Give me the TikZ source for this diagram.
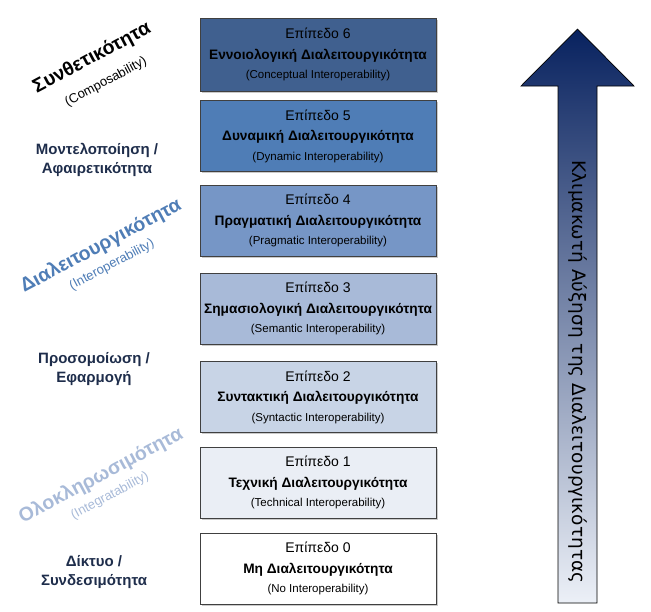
\documentclass[tikz,border=0pt]{standalone}
\usepackage{fontspec}
\setmainfont{Liberation Sans}
\newfontfamily\arrowfont{DejaVu Sans}
\usetikzlibrary{shadows}
\definecolor{cSix}{RGB}{64,96,143}
\definecolor{cFive}{RGB}{79,125,182}
\definecolor{cFour}{RGB}{118,150,198}
\definecolor{cThree}{RGB}{168,186,216}
\definecolor{cTwo}{RGB}{200,212,230}
\definecolor{cOne}{RGB}{234,238,245}
\definecolor{navytext}{RGB}{30,45,75}
\definecolor{arrowtop}{RGB}{8,34,95}
\definecolor{arrowbot}{RGB}{236,240,247}
\tikzset{
  levelbox/.style={draw=black!75, line width=0.8pt, minimum width=236pt, minimum height=71pt,
    inner sep=0pt, align=center, text=black,
    drop shadow={shadow xshift=1.5pt, shadow yshift=-1.5pt, opacity=0.35, fill=black!60}},
  sidelabel/.style={font=\fontsize{15}{19}\selectfont\bfseries, text=navytext, align=center},
  bigrot/.style={font=\fontsize{19.5}{22}\selectfont\bfseries, rotate=28},
  smallrot/.style={font=\fontsize{13}{15}\selectfont, rotate=28},
}
\newcommand{\lvl}[3]{{\fontsize{14}{20}\selectfont #1}\\[8.5pt]{\fontsize{13.7}{20}\selectfont\bfseries #2}\\[7.5pt]{\fontsize{11.5}{14}\selectfont #3}}
\begin{document}
\begin{tikzpicture}[x=1pt,y=-1pt]
\useasboundingbox (0,0) rectangle (651,611);
% level boxes
\node[levelbox, fill=cSix, minimum height=73pt] (l6) at (318,54.5) {\lvl{Επίπεδο 6}{Εννοιολογική Διαλειτουργικότητα}{(Conceptual Interoperability)}};
\node[levelbox, fill=cFive] (l5) at (318,136) {\lvl{Επίπεδο 5}{Δυναμική Διαλειτουργικότητα}{(Dynamic Interoperability)}};
\node[levelbox, fill=cFour] (l4) at (318,220.5) {\lvl{Επίπεδο 4}{Πραγματική Διαλειτουργικότητα}{(Pragmatic Interoperability)}};
\node[levelbox, fill=cThree] (l3) at (318,308.5) {\lvl{Επίπεδο 3}{Σημασιολογική Διαλειτουργικότητα}{(Semantic Interoperability)}};
\node[levelbox, fill=cTwo] (l2) at (318,397) {\lvl{Επίπεδο 2}{Συντακτική Διαλειτουργικότητα}{(Syntactic Interoperability)}};
\node[levelbox, fill=cOne] (l1) at (318,482.5) {\lvl{Επίπεδο 1}{Τεχνική Διαλειτουργικότητα}{(Technical Interoperability)}};
\node[levelbox, fill=white] (l0) at (318,568.5) {\lvl{Επίπεδο 0}{Μη Διαλειτουργικότητα}{(No Interoperability)}};
% arrow
\shade[top color=arrowtop, bottom color=arrowbot, draw=black, line width=0.7pt]
  (558,603) -- (558,86) -- (521,86) -- (577.5,29) -- (634,86) -- (597,86) -- (597,603) -- cycle;
\node[rotate=-90, font=\arrowfont\fontsize{18.5}{20}\selectfont, text=black] (arrowtext) at (577.5,372) {Κλιμακωτή Αύξηση της Διαλειτουργικότητας};
% left labels
\node[bigrot, text=black] (comp) at (92,58) {Συνθετικότητα};
\node[smallrot, text=black] (compen) at (106,82) {(Composability)};
\node[sidelabel] (model) at (97,160) {Μοντελοποίηση /\\Αφαιρετικότητα};
\node[bigrot, text=cFive] (inter) at (101,246) {Διαλειτουργικότητα};
\node[smallrot, text=cFive] (interen) at (112,265) {(Interoperability)};
\node[sidelabel] (sim) at (94,369) {Προσομοίωση /\\Εφαρμογή};
\node[bigrot, text=cThree] (integ) at (101,476) {Ολοκληρωσιμότητα};
\node[smallrot, text=cThree] (integen) at (110,496) {(Integratability)};
\node[sidelabel] (net) at (94,572) {Δίκτυο /\\Συνδεσιμότητα};
\end{tikzpicture}
\end{document}
